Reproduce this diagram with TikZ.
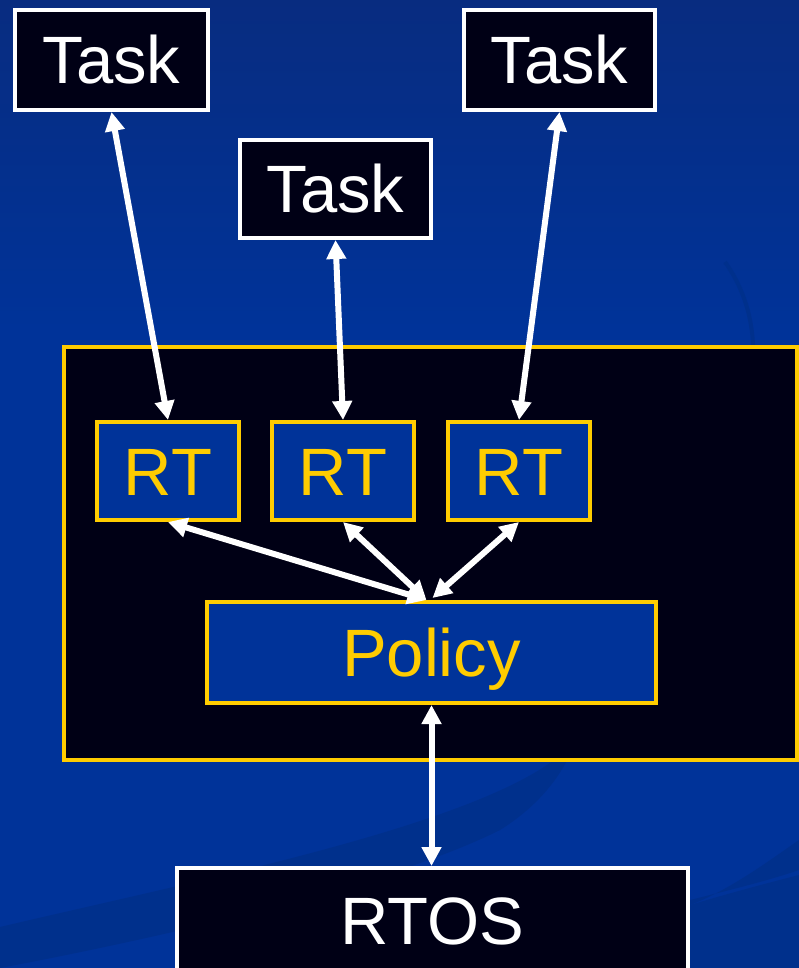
\documentclass[tikz,border=0pt]{standalone}
\usepackage{fontspec}
\setmainfont{Liberation Sans}
\usetikzlibrary{arrows.meta,calc}
\definecolor{bgblue}{HTML}{003399}
\definecolor{bgtop}{HTML}{082C80}
\definecolor{swoosh}{HTML}{00308C}
\definecolor{boxdark}{HTML}{000015}
\definecolor{gold}{HTML}{FFCC00}
\tikzset{
  labeltext/.style={font=\fontsize{67}{67}\selectfont, text height=48pt, text depth=0pt},
  taskbox/.style={draw=white, line width=4pt, fill=boxdark, text=white, inner sep=0pt, labeltext},
  rtbox/.style={draw=gold, line width=4pt, fill=bgblue, text=gold, inner sep=0pt, labeltext},
  frame/.style={draw=gold, line width=4pt, fill=boxdark, inner sep=0pt},
  link/.style={draw=white, line width=6pt, {Triangle[length=19pt,width=19pt]}-{Triangle[length=19pt,width=19pt]}}
}
\begin{document}
\begin{tikzpicture}[x=1pt,y=-1pt]
\useasboundingbox (0,0) rectangle (799,968);
% background
\fill[bgblue] (0,0) rectangle (799,968);
\shade[top color=bgtop, bottom color=bgblue] (0,0) rectangle (799,330);
% swooshes
\fill[swoosh] (0,927) .. controls (200,880) and (450,830) .. (547,765)
  .. controls (600,730) and (590,680) .. (570,640)
  .. controls (600,700) and (580,780) .. (500,830)
  .. controls (400,880) and (200,930) .. (0,968) -- cycle;
\fill[swoosh] (690,905) .. controls (730,890) and (770,860) .. (799,840)
  -- (799,870) .. controls (770,880) and (730,890) .. (690,900) -- cycle;
\fill[swoosh] (560,968) -- (690,968) -- (690,905) .. controls (740,890) and (780,880) .. (799,875)
  -- (799,968) -- cycle;
\draw[swoosh, line width=4pt] (725,262) .. controls (745,290) and (752,320) .. (753,345);
% nodes
\node[taskbox, minimum width=193pt, minimum height=100pt] (t1) at (111.5,60) {Task};
\node[taskbox, minimum width=191pt, minimum height=98pt] (t2) at (335.5,189) {Task};
\node[taskbox, minimum width=191pt, minimum height=100pt] (t3) at (559.5,60) {Task};
\node[frame, minimum width=733pt, minimum height=413pt] (fr) at (430.5,553.5) {};
\node[rtbox, minimum width=142pt, minimum height=98pt] (rt1) at (168,471) {RT};
\node[rtbox, minimum width=142pt, minimum height=98pt] (rt2) at (343,471) {RT};
\node[rtbox, minimum width=142pt, minimum height=98pt] (rt3) at (519,471) {RT};
\node[rtbox, minimum width=449pt, minimum height=101pt] (pol) at (431.5,652.5) {Policy};
\node[taskbox, minimum width=511pt, minimum height=104pt] (rtos) at (432.5,920) {RTOS};
\coordinate (pa) at ($(pol.north)+(-5,0)$);
\coordinate (pb) at ($(pol.north)+(1,-2)$);
% connectors
\draw[link] (t1.south) -- (rt1.north);
\draw[link] (t2.south) -- (rt2.north);
\draw[link] (t3.south) -- (rt3.north);
\draw[link] (rt1.south) -- (pa);
\draw[link] (rt2.south) -- (pa);
\draw[link] (rt3.south) -- (pb);
\draw[link] (pol.south) -- (rtos.north -| pol.south);
\end{tikzpicture}
\end{document}
